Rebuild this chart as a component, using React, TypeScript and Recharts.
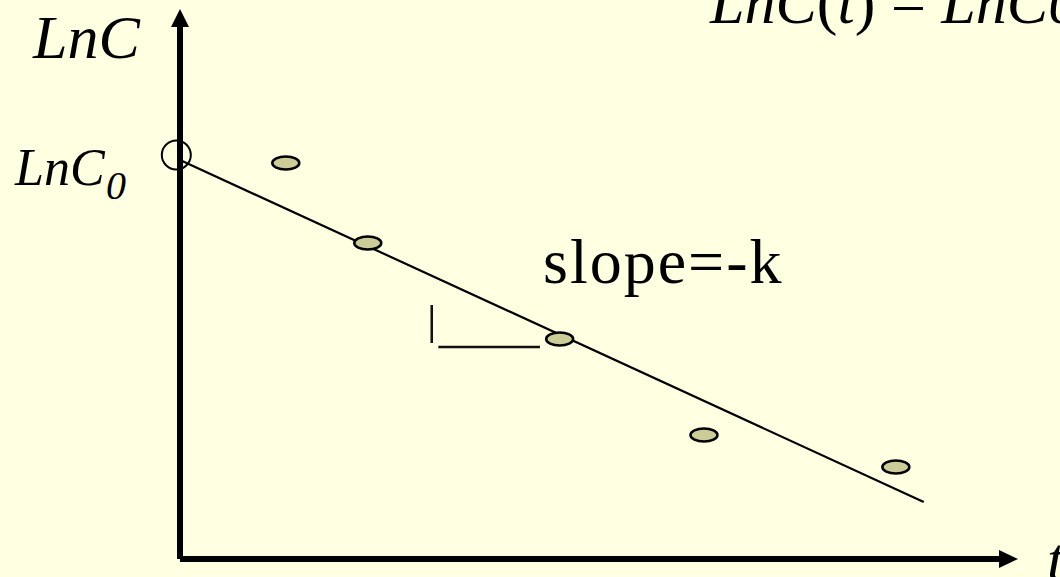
import {
    ComposedChart,
    XAxis,
    YAxis,
    Scatter,
    ReferenceLine,
    ReferenceDot,
} from "recharts";

// Measured points (time, ln of concentration)
const timeValues = [1.29, 2.29, 4.63, 6.39, 8.73];
const lnCValues = [3.96, 3.16, 2.2, 1.24, 0.92];

// Fitted straight line: LnC(t) = LnC0 - k t
const fitStart = { x: 0, y: 3.99 };
const fitEnd = { x: 9.07, y: 0.57 };

// Intercept marker (open circle at LnC0)
const intercept = { x: -0.045, y: 4.04 };

// Little slope triangle under the line
const slopeVertical = [{ x: 3.07, y: 2.54 }, { x: 3.07, y: 2.16 }];
const slopeHorizontal = [{ x: 3.15, y: 2.12 }, { x: 4.39, y: 2.12 }];

const T_MAX = 10;
const LNC_MAX = 5.33;

// Axis segments (origin to the base of each arrow head)
const xAxisSegment = [{ x: 0, y: 0 }, { x: T_MAX, y: 0 }];
const yAxisSegment = [{ x: 0, y: 0 }, { x: 0, y: LNC_MAX }];

const COLORS = {
    background: "#FFFFE1",
    ink: "#000000",
    pointFill: "#CCCC99",
};

const FONT = '"Liberation Serif", "Times New Roman", serif';

const points = timeValues.map((t, i) => ({ t, lnC: lnCValues[i] }));

function EllipseDot(props: any) {
    const { cx, cy } = props;
    if (cx == null || cy == null) return null;
    return (
        <ellipse
            cx={cx}
            cy={cy}
            rx={13.5}
            ry={6.5}
            fill={COLORS.pointFill}
            stroke={COLORS.ink}
            strokeWidth={2.5}
        />
    );
}

function ArrowRight(props: any) {
    const { cx, cy } = props;
    return (
        <polygon
            points={`${cx - 1},${cy - 9} ${cx + 18},${cy} ${cx - 1},${cy + 9}`}
            fill={COLORS.ink}
        />
    );
}

function ArrowUp(props: any) {
    const { cx, cy } = props;
    return (
        <polygon
            points={`${cx - 9},${cy + 1} ${cx},${cy - 17} ${cx + 9},${cy + 1}`}
            fill={COLORS.ink}
        />
    );
}

function OpenCircle(props: any) {
    const { cx, cy } = props;
    return <circle cx={cx} cy={cy} r={14.5} fill="none" stroke={COLORS.ink} strokeWidth={2} />;
}

export default function App() {
    return (
        <div style={styles.page}>
            <ComposedChart
                width={1060}
                height={577}
                margin={{ top: 26, right: 60, bottom: 18, left: 180 }}
            >
                <XAxis
                    type="number"
                    dataKey="t"
                    domain={[0, T_MAX]}
                    allowDataOverflow
                    hide
                />
                <YAxis
                    type="number"
                    dataKey="lnC"
                    domain={[0, LNC_MAX]}
                    allowDataOverflow
                    hide
                />

                {/* axes */}
                <ReferenceLine
                    segment={yAxisSegment}
                    stroke={COLORS.ink}
                    strokeWidth={6}
                    ifOverflow="visible"
                />
                <ReferenceLine
                    segment={xAxisSegment}
                    stroke={COLORS.ink}
                    strokeWidth={6}
                    ifOverflow="visible"
                />

                {/* fitted line */}
                <ReferenceLine
                    segment={[fitStart, fitEnd]}
                    stroke={COLORS.ink}
                    strokeWidth={2.2}
                    ifOverflow="visible"
                />

                {/* slope triangle */}
                <ReferenceLine
                    segment={slopeVertical}
                    stroke="#111111"
                    strokeWidth={2.5}
                    ifOverflow="visible"
                />
                <ReferenceLine
                    segment={slopeHorizontal}
                    stroke="#111111"
                    strokeWidth={2.5}
                    ifOverflow="visible"
                />

                <ReferenceDot
                    x={intercept.x}
                    y={intercept.y}
                    ifOverflow="visible"
                    shape={OpenCircle}
                />

                <Scatter
                    data={points}
                    dataKey="lnC"
                    shape={EllipseDot}
                    isAnimationActive={false}
                />

                {/* axis arrow heads */}
                <ReferenceDot x={T_MAX} y={0} ifOverflow="visible" shape={ArrowRight} />
                <ReferenceDot x={0} y={LNC_MAX} ifOverflow="visible" shape={ArrowUp} />
            </ComposedChart>

            <svg width={1060} height={577} style={styles.overlay}>
                <g fontFamily={FONT} fill={COLORS.ink}>
                    <text x={710} y={23} fontSize={62}>
                        <tspan fontStyle="italic">LnC</tspan>
                        <tspan>(</tspan>
                        <tspan fontStyle="italic">t</tspan>
                        <tspan>) = </tspan>
                        <tspan fontStyle="italic">LnC</tspan>
                        <tspan fontStyle="italic">0</tspan>
                        <tspan> − </tspan>
                        <tspan fontStyle="italic">kt</tspan>
                    </text>
                    <text x={33} y={58} fontSize={62} fontStyle="italic">LnC</text>
                    <text x={15} y={185} fontSize={52} fontStyle="italic">LnC</text>
                    <text x={106} y={199} fontSize={40} fontStyle="italic">0</text>
                    <text x={543} y={283} fontSize={64} letterSpacing={2}>slope=-k</text>
                    <text x={1047} y={580} fontSize={62} fontStyle="italic">t</text>
                </g>
            </svg>
        </div>
    );
}

const styles: Record<string, React.CSSProperties> = {
    page: {
        position: "absolute",
        left: 0,
        top: 0,
        width: 1060,
        height: 577,
        background: COLORS.background,
        overflow: "hidden",
    },
    overlay: {
        position: "absolute",
        left: 0,
        top: 0,
        pointerEvents: "none",
        overflow: "hidden",
    },
};
